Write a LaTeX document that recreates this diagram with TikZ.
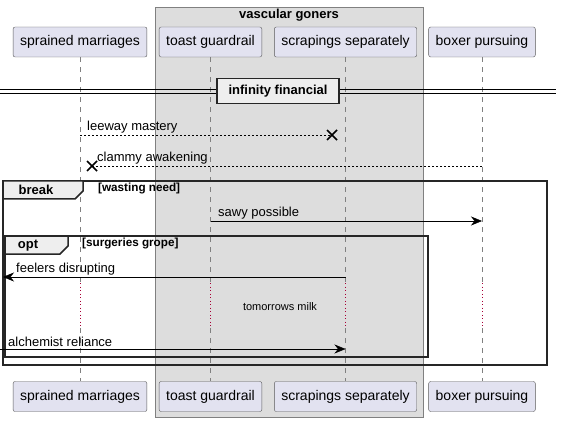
\documentclass[tikz,border=0pt]{standalone}
\usepackage{fontspec}
\setmainfont{Liberation Sans}
\usetikzlibrary{arrows.meta,positioning}
\definecolor{partfill}{HTML}{E2E2F0}
\definecolor{boxgray}{HTML}{DDDDDD}
\definecolor{tabfill}{HTML}{EEEEEE}
\definecolor{delayred}{HTML}{A80036}

\begin{document}
\begin{tikzpicture}[x=1pt,y=-1pt,>={Stealth[length=11pt,width=9pt,inset=3.5pt]},
  actor/.style={draw=gray!70!black, fill=partfill, rounded corners=2pt,
    minimum height=30pt, inner xsep=7pt, font=\fontsize{14}{16}\selectfont},
  lifeline/.style={gray, dash pattern=on 5pt off 5pt},
  delayline/.style={delayred, dash pattern=on 1pt off 2.5pt},
  msg/.style={font=\fontsize{13}{15}\selectfont, anchor=south west, inner sep=0pt},
  lost/.style={dash pattern=on 2pt off 2pt},
  frameline/.style={line width=1.5pt, draw=black!85},
  framelabel/.style={font=\bfseries\fontsize{13}{15}\selectfont, inner sep=0pt},
  guard/.style={font=\bfseries\fontsize{11.7}{13}\selectfont, anchor=west, inner sep=0pt}
]
  \useasboundingbox (0,0) rectangle (562,422);

  % box round the two middle participants
  \filldraw[fill=boxgray, draw=gray] (155,7) rectangle (423,417);
  \node[font=\bfseries\fontsize{13}{15}\selectfont] (goners) at (289,15) {vascular goners};

  \node[actor] (sprained) at (80,42) {sprained marriages};
  \node[actor] (toast) at (210.5,42) {toast guardrail};
  \node[actor] (scrapings) at (345.5,42) {scrapings separately};
  \node[actor] (boxer) at (482,42) {boxer pursuing};
  \node[actor] (spraineddn) at (80,396.5) {sprained marriages};
  \node[actor] (toastdn) at (210.5,396.5) {toast guardrail};
  \node[actor] (scrapingsdn) at (345.5,396.5) {scrapings separately};
  \node[actor] (boxerdn) at (482,396.5) {boxer pursuing};

  \coordinate (delaytop) at (0,283);
  \coordinate (delaybot) at (0,328);
  \foreach \p in {sprained,toast,scrapings,boxer}{
    \draw[lifeline] (\p.south) -- (\p |- delaytop);
    \draw[delayline] (\p |- delaytop) -- (\p |- delaybot);
    \draw[lifeline] (\p |- delaybot) -- (\p dn.north);
  }

  % divider
  \draw (0,89.5) -- (556,89.5) (0,93.5) -- (556,93.5);
  \node[draw=black!85, line width=1.5pt, fill=tabfill, minimum width=122pt,
    minimum height=25pt, inner sep=0pt,
    font=\bfseries\fontsize{13}{15}\selectfont] (financial) at (278,91) {infinity financial};

  % lost messages
  \coordinate (leewayX) at (332,135);
  \draw[lost] (sprained |- leewayX) -- (leewayX);
  \draw[line width=1.5pt] (leewayX) +(-5,-5) -- +(5,5) (leewayX) +(-5,5) -- +(5,-5);
  \node[msg] (leeway) at (87,133) {leeway mastery};

  \coordinate (clammyX) at (92,166);
  \draw[lost] (boxer |- clammyX) -- (clammyX);
  \draw[line width=1.5pt] (clammyX) +(-5,-5) -- +(5,5) (clammyX) +(-5,5) -- +(5,-5);
  \node[msg] (clammy) at (97,164) {clammy awakening};

  % break frame
  \draw[frameline] (3,181) rectangle (547,365);
  \filldraw[frameline, fill=tabfill] (3,181) -- (83,181) -- (83,191) -- (75,199) -- (3,199) -- cycle;
  \node[framelabel] (breaklbl) at (36,190) {break};
  \node[guard] (wasting) at (98,189) {[wasting need]};

  \draw[->] (toast |- 0,221) -- (boxer |- 0,221);
  \node[msg] (sawy) at (218,219) {sawy possible};

  % opt frame
  \draw[frameline] (5,236) rectangle (428,357);
  \filldraw[frameline, fill=tabfill] (5,236) -- (68,236) -- (68,246) -- (60,254) -- (5,254) -- cycle;
  \node[framelabel] (optlbl) at (28,245.5) {opt};
  \node[guard] (surgeries) at (82,244) {[surgeries grope]};

  \coordinate (feelersend) at (3,277);
  \draw[->] (scrapings |- feelersend) -- (feelersend);
  \node[msg] (feelers) at (16,275) {feelers disrupting};

  \node[font=\fontsize{11}{13}\selectfont] (milk) at (280,307) {tomorrows milk};

  \coordinate (alchemiststart) at (0,349);
  \draw[->] (alchemiststart) -- (scrapings |- alchemiststart);
  \node[msg] (alchemist) at (8,347) {alchemist reliance};
\end{tikzpicture}
\end{document}
